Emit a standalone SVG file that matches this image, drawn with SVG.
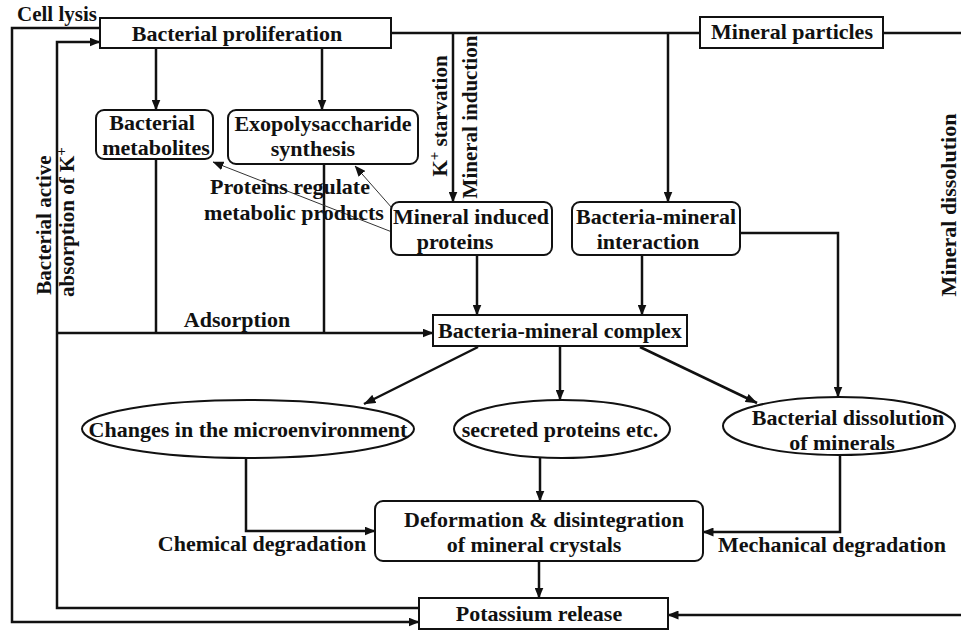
<svg xmlns="http://www.w3.org/2000/svg" width="961" height="630" viewBox="0 0 961 630">
<style>
text{font-family:"Liberation Serif","Times New Roman",serif;font-weight:bold;font-size:22px;fill:#111}
.m{text-anchor:middle}
.r{font-size:21px}
.box{fill:#fff;stroke:#111;stroke-width:2}
.c{fill:none;stroke:#111;stroke-width:2.5}
.t{fill:none;stroke:#333;stroke-width:1}
.sup{font-size:15px}
</style>
<defs>
<marker id="a" markerUnits="userSpaceOnUse" markerWidth="11" markerHeight="9" viewBox="0 0 11 9" refX="10.5" refY="4.5" orient="auto"><path d="M0,0 L11,4.5 L0,9 z" fill="#111"/></marker>
<marker id="b" markerUnits="userSpaceOnUse" markerWidth="12" markerHeight="9" viewBox="0 0 12 9" refX="11.5" refY="4.5" orient="auto"><path d="M0,0 L12,4.5 L0,9 z" fill="#111"/></marker>
</defs>
<rect width="961" height="630" fill="#fff"/>
<g id="connectors">
<path class="c" d="M100,28 H12 V622 H419" marker-end="url(#a)"/>
<path class="c" d="M419,608 H57 V42 H100" marker-end="url(#a)"/>
<path class="c" d="M57,333 H433" marker-end="url(#a)"/>
<path class="c" d="M156,159 V333"/>
<path class="c" d="M324,164 V333"/>
<path class="c" d="M156,48 V110" marker-end="url(#a)"/>
<path class="c" d="M322,48 V110" marker-end="url(#a)"/>
<path class="c" d="M391,33 H700"/>
<path class="c" d="M453,33 V202" marker-end="url(#a)"/>
<path class="c" d="M668,33 V202" marker-end="url(#a)"/>
<path class="c" d="M883,33 H964 V615 H668" marker-end="url(#a)"/>
<path class="c" d="M477,255 V315" marker-end="url(#a)"/>
<path class="c" d="M642,255 V315" marker-end="url(#a)"/>
<path class="c" d="M740,233 H838 V397" marker-end="url(#a)"/>
<path class="c" d="M478,347 L364,404" stroke-width="3" marker-end="url(#b)"/>
<path class="c" d="M560,346 V400" marker-end="url(#a)"/>
<path class="c" d="M640,347 L757,403" stroke-width="3" marker-end="url(#b)"/>
<path class="c" d="M246,458 V531 H375" marker-end="url(#a)"/>
<path class="c" d="M540,458 V501" marker-end="url(#a)"/>
<path class="c" d="M840,455 V532 H703" marker-end="url(#a)"/>
<path class="c" d="M539,561 V598" marker-end="url(#a)"/>
<path class="t" d="M392,232 L213,162" marker-end="url(#a)"/>
<path class="t" d="M392,208 L355,166" marker-end="url(#a)"/>
</g>
<g id="labels">
<text class="r" x="17" y="21">Cell lysis</text>
<text class="m r" transform="translate(51,225) rotate(-90)">Bacterial active</text>
<text class="m r" transform="translate(74,222) rotate(-90)">absorption of K<tspan class="sup" dy="-8">+</tspan></text>
<text class="m r" transform="translate(447,116) rotate(-90)">K<tspan class="sup" dy="-8">+</tspan><tspan dy="8"> starvation</tspan></text>
<text class="m r" transform="translate(477,117) rotate(-90)">Mineral induction</text>
<text class="m" transform="translate(956,205) rotate(-90)">Mineral dissolution</text>
<text class="m" x="290" y="194">Proteins regulate</text>
<text class="m" x="294" y="220">metabolic products</text>
<text class="m" x="237" y="327">Adsorption</text>
<text class="m" x="262" y="551">Chemical degradation</text>
<text class="m" x="832" y="552">Mechanical degradation</text>
</g>
<g id="bacterial-proliferation">
<rect class="box" x="100" y="18" width="291" height="30"/>
<text class="m" x="237" y="41">Bacterial proliferation</text>
</g>
<g id="mineral-particles">
<rect class="box" x="700" y="17" width="183" height="31"/>
<text class="m" x="792" y="39">Mineral particles</text>
</g>
<g id="bacterial-metabolites">
<rect class="box" x="96" y="110" width="117" height="49" rx="8"/>
<text class="m" x="152" y="130">Bacterial</text>
<text class="m" x="156" y="155">metabolites</text>
</g>
<g id="exopolysaccharide">
<rect class="box" x="228" y="110" width="190" height="54" rx="8"/>
<text class="m" x="323" y="131">Exopolysaccharide</text>
<text class="m" x="313" y="156">synthesis</text>
</g>
<g id="mineral-induced-proteins">
<rect class="box" x="391" y="202" width="161" height="53" rx="8"/>
<text class="m" x="471" y="224">Mineral induced</text>
<text class="m" x="455" y="249">proteins</text>
</g>
<g id="bacteria-mineral-interaction">
<rect class="box" x="572" y="202" width="168" height="53" rx="8"/>
<text class="m" x="656" y="224">Bacteria-mineral</text>
<text class="m" x="648" y="249">interaction</text>
</g>
<g id="bacteria-mineral-complex">
<rect class="box" x="433" y="315" width="254" height="31"/>
<text class="m" x="560" y="338">Bacteria-mineral complex</text>
</g>
<g id="changes-microenvironment">
<ellipse class="box" cx="248" cy="429" rx="166" ry="29"/>
<text class="m" x="248" y="437">Changes in the microenvironment</text>
</g>
<g id="secreted-proteins">
<ellipse class="box" cx="562" cy="429" rx="108" ry="29"/>
<text class="m" x="560" y="437">secreted proteins etc.</text>
</g>
<g id="bacterial-dissolution">
<ellipse class="box" cx="839" cy="426" rx="116" ry="29"/>
<text class="m" x="848" y="425">Bacterial dissolution</text>
<text class="m" x="842" y="450">of minerals</text>
</g>
<g id="deformation">
<rect class="box" x="375" y="501" width="328" height="60" rx="8"/>
<text class="m" x="544" y="527">Deformation &amp; disintegration</text>
<text class="m" x="534" y="552">of mineral crystals</text>
</g>
<g id="potassium-release">
<rect class="box" x="419" y="598" width="249" height="31"/>
<text class="m" x="539" y="621">Potassium release</text>
</g>
</svg>
